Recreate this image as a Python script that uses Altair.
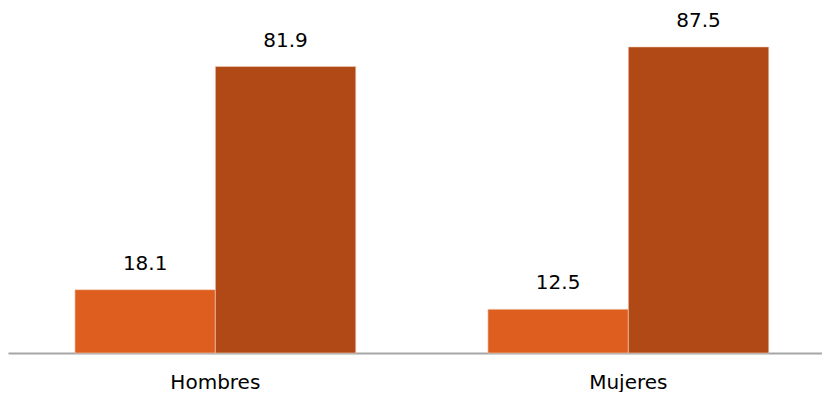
import altair as alt
import pandas as pd

groups = ["Hombres", "Mujeres"]
series = ["Serie 1", "Serie 2"]
serie1 = [18.1, 12.5]
serie2 = [81.9, 87.5]
colors = ["#DE5E1F", "#B04915"]

rows = []
for i, g in enumerate(groups):
    rows.append({"grupo": g, "serie": series[0], "valor": serie1[i]})
    rows.append({"grupo": g, "serie": series[1], "valor": serie2[i]})
df = pd.DataFrame(rows)

FONT = "DejaVu Sans"

x = alt.X(
    "grupo:N", sort=groups, title=None,
    scale=alt.Scale(paddingInner=0.32, paddingOuter=0.1455, align=0.557),
    axis=alt.Axis(labelAngle=0, labelFontSize=20, labelColor="#000000",
                  labelPadding=19, ticks=False, domainColor="#A6A6A6",
                  domainWidth=2, labelFont=FONT),
)
xo = alt.XOffset("serie:N", sort=series, scale=alt.Scale(paddingInner=0, paddingOuter=0))
y = alt.Y("valor:Q", scale=alt.Scale(domain=[0, 97.2], nice=False), axis=None)

bars = alt.Chart(df).mark_bar(stroke="#F3D2C0", strokeWidth=0.6).encode(
    x=x, xOffset=xo, y=y,
    color=alt.Color("serie:N", scale=alt.Scale(domain=series, range=colors), legend=None),
)
text = alt.Chart(df).mark_text(dy=-26, fontSize=20, baseline="middle", font=FONT, color="#000000").encode(
    x=x, xOffset=xo, y=y, text=alt.Text("valor:Q", format=".1f"),
)

chart = alt.layer(bars, text).properties(
    width=814, height=340,
    padding={"left": 0, "top": 5, "right": 0, "bottom": 39},
    autosize="none",
).configure_view(stroke=None)

chart.save("out.html", embed_options={"renderer": "svg", "actions": False})
